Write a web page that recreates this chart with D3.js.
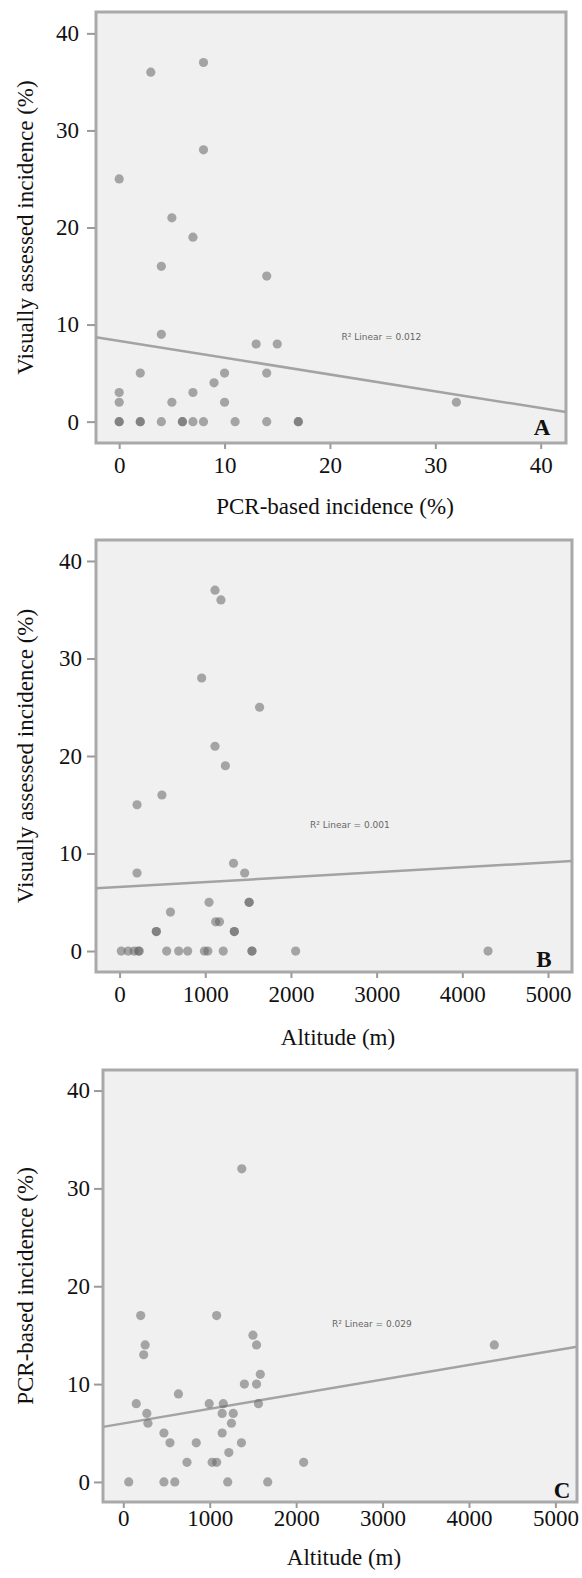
<!DOCTYPE html>
<html>
<head>
  <meta charset="UTF-8" />
  <title>Incidence scatter plots</title>
  <script src="https://d3js.org/d3.v7.min.js"></script>
  <style>
    body { margin: 0; background: #fff; }
    svg text { font-family: "Liberation Serif", Tinos, "Nimbus Roman", "Times New Roman", "DejaVu Serif", serif; fill: #111; }
    .tick line { stroke: #9a9a9a; stroke-width: 2px; }
    svg .tick text { font-size: 23px; }
    .frame { fill: #f0f0f0; stroke: #a9a9a9; stroke-width: 3px; }
    .fit { stroke: #a3a3a3; stroke-width: 2.5px; fill: none; }
    .dot { fill: #666; fill-opacity: 0.55; }
    svg text.r2 { font-family: "DejaVu Sans", sans-serif; font-size: 9px; fill: #666; }
    svg text.letter { font-size: 23px; font-weight: bold; }
    svg text.title { font-size: 23px; }
  </style>
</head>
<body>
  <svg id="chart" width="582" height="1578"></svg>
  <script>
    // tick labels
    const incidenceTicks = [0, 10, 20, 30, 40];
    const altitudeTicks = [0, 1000, 2000, 3000, 4000, 5000];

    // A: PCR-based incidence (x) vs visually assessed incidence (y)
    const pcrA = [3, 8, 8, 0, 5, 7, 4, 14, 4, 13, 15, 2, 10, 14, 9, 7, 0, 0, 5, 10, 32,
                  0, 0, 2, 2, 4, 6, 6, 7, 8, 11, 14, 17, 17];
    const visA = [36, 37, 28, 25, 21, 19, 16, 15, 9, 8, 8, 5, 5, 5, 4, 3, 3, 2, 2, 2, 2,
                  0, 0, 0, 0, 0, 0, 0, 0, 0, 0, 0, 0, 0];

    // B: altitude (x) vs visually assessed incidence (y)
    const altB = [1114, 1183, 958, 1634, 1114, 1235, 494, 204, 204, 1330, 1460, 1044, 1512, 1512,
                  594, 429, 429, 1122, 1166, 1339, 1339,
                  20, 100, 170, 220, 230, 550, 690, 795, 990, 1030, 1210, 1545, 1545, 2055, 4300];
    const visB = [37, 36, 28, 25, 21, 19, 16, 15, 8, 9, 8, 5, 5, 5,
                  4, 2, 2, 3, 3, 2, 2,
                  0, 0, 0, 0, 0, 0, 0, 0, 0, 0, 0, 0, 0, 0, 0];

    // C: altitude (x) vs PCR-based incidence (y)
    const altC = [1371, 201, 1080, 1500, 1542, 253, 236, 4293, 1585, 1401, 1542, 638,
                  150, 994, 1157, 1564, 272, 1144, 1272, 285, 1251, 470, 1144, 540, 844, 1367,
                  1221, 737, 1028, 1080, 2087, 63, 470, 596, 1208, 1671];
    const pcrC = [32, 17, 17, 15, 14, 14, 13, 14, 11, 10, 10, 9,
                  8, 8, 8, 8, 7, 7, 7, 6, 6, 5, 5, 4, 4, 4,
                  3, 2, 2, 2, 2, 0, 0, 0, 0, 0];

    // linear fits: [intercept, slope]
    const fitA = [8.32, -0.173];
    const fitB = [6.57, 0.000504];
    const fitC = [5.98, 0.001494];
    const r2Labels = ["R² Linear = 0.012", "R² Linear = 0.001", "R² Linear = 0.029"];

    const svg = d3.select("#chart");

    const panels = [
      {
        xs: pcrA, ys: visA, fit: fitA, r2: r2Labels[0], r2At: [21.1, 8.7],
        letter: "A", xTicks: incidenceTicks,
        xDomain: [-2.2, 42.4], yDomain: [-2.2, 42.2],
        box: { left: 96, right: 566, top: 12, bottom: 443 },
        yPad: 8, xPad: 8, xTitleY: 514, letterDx: 24, letterDy: 8,
        xTitle: "PCR-based incidence (%)", yTitle: "Visually assessed incidence (%)"
      },
      {
        xs: altB, ys: visB, fit: fitB, r2: r2Labels[1], r2At: [2222, 12.9],
        letter: "B", xTicks: altitudeTicks,
        xDomain: [-275, 5280], yDomain: [-2.15, 42.15],
        box: { left: 96, right: 572, top: 540, bottom: 972 },
        yPad: 5, xPad: 8, xTitleY: 1045, letterDx: 28, letterDy: 5,
        xTitle: "Altitude (m)", yTitle: "Visually assessed incidence (%)"
      },
      {
        xs: altC, ys: pcrC, fit: fitC, r2: r2Labels[2], r2At: [2415, 16.2],
        letter: "C", xTicks: altitudeTicks,
        xDomain: [-235, 5250], yDomain: [-2.05, 42.1],
        box: { left: 103, right: 577, top: 1070, bottom: 1502 },
        yPad: 4, xPad: 2, xTitleY: 1565, letterDx: 15, letterDy: 4,
        xTitle: "Altitude (m)", yTitle: "PCR-based incidence (%)"
      }
    ];

    panels.forEach(p => {
      const b = p.box;
      const x = d3.scaleLinear().domain(p.xDomain).range([b.left, b.right]);
      const y = d3.scaleLinear().domain(p.yDomain).range([b.bottom, b.top]);
      const g = svg.append("g");

      g.append("rect").attr("class", "frame")
        .attr("x", b.left).attr("y", b.top)
        .attr("width", b.right - b.left).attr("height", b.bottom - b.top);

      const yAxis = g.append("g")
        .attr("transform", `translate(${b.left - 1},0)`)
        .call(d3.axisLeft(y).tickValues(incidenceTicks).tickSize(8).tickPadding(p.yPad));
      yAxis.select(".domain").remove();

      const xAxis = g.append("g")
        .attr("transform", `translate(0,${b.bottom + 1})`)
        .call(d3.axisBottom(x).tickValues(p.xTicks).tickFormat(d3.format("d"))
          .tickSize(5).tickPadding(p.xPad));
      xAxis.select(".domain").remove();
      g.selectAll(".tick text").attr("font-family", null);
      yAxis.attr("font-family", null);
      xAxis.attr("font-family", null);

      // regression line across the whole frame
      const x0 = p.xDomain[0], x1 = p.xDomain[1];
      g.append("line").attr("class", "fit")
        .attr("x1", x(x0)).attr("y1", y(p.fit[0] + p.fit[1] * x0))
        .attr("x2", x(x1)).attr("y2", y(p.fit[0] + p.fit[1] * x1));

      g.append("g").selectAll("circle")
        .data(p.xs.map((v, i) => [v, p.ys[i]]))
        .join("circle")
        .attr("class", "dot")
        .attr("cx", d => x(d[0]))
        .attr("cy", d => y(d[1]))
        .attr("r", 4.6);

      g.append("text").attr("class", "r2")
        .attr("x", x(p.r2At[0])).attr("y", y(p.r2At[1]))
        .attr("dy", "0.35em")
        .text(p.r2);

      g.append("text").attr("class", "letter")
        .attr("x", b.right - p.letterDx).attr("y", b.bottom - p.letterDy)
        .attr("text-anchor", "middle")
        .text(p.letter);

      g.append("text").attr("class", "title")
        .attr("x", (b.left + b.right) / 2 + 4).attr("y", p.xTitleY)
        .attr("text-anchor", "middle")
        .text(p.xTitle);

      g.append("text").attr("class", "title")
        .attr("transform", `translate(33,${(b.top + b.bottom) / 2}) rotate(-90)`)
        .attr("text-anchor", "middle")
        .text(p.yTitle);
    });
  </script>
</body>
</html>
